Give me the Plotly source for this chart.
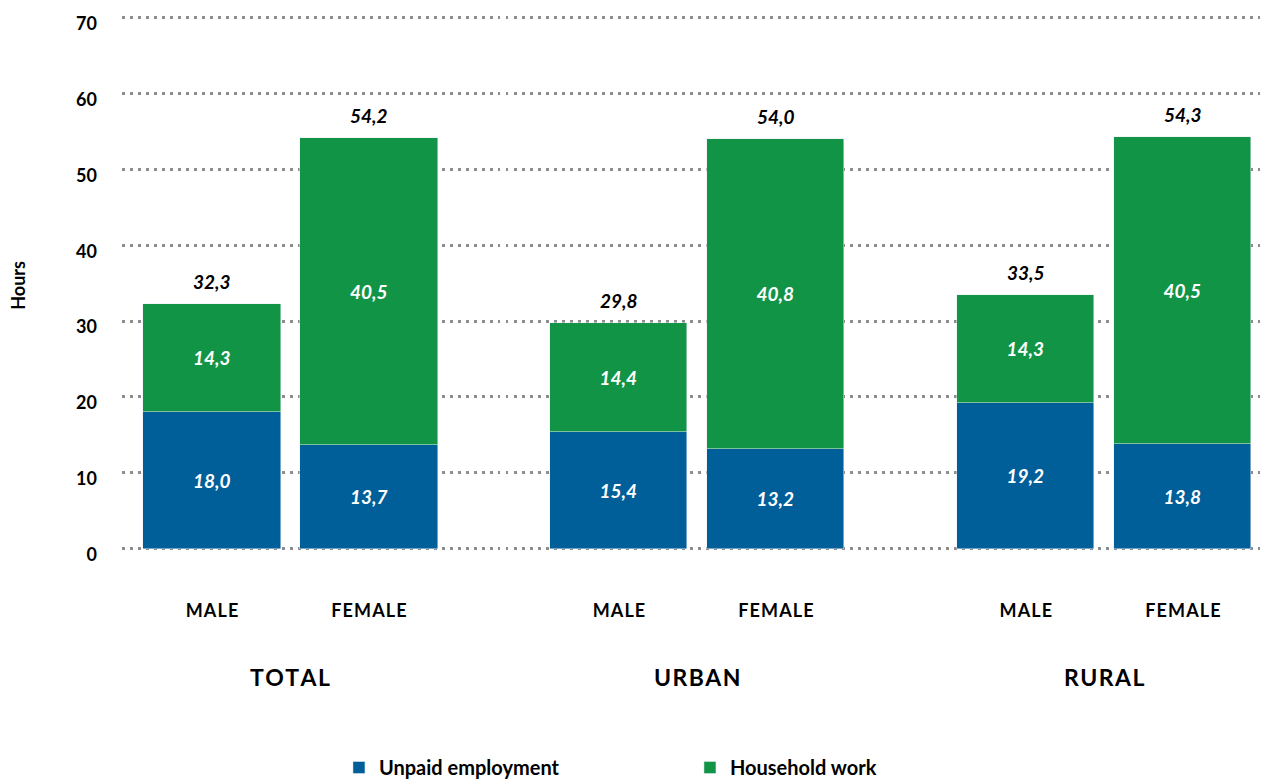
import plotly.graph_objects as go

groups = ["TOTAL", "URBAN", "RURAL"]
genders = ["MALE", "FEMALE"]
unpaid = [18.0, 13.7, 15.4, 13.2, 19.2, 13.8]
household = [14.3, 40.5, 14.4, 40.8, 14.3, 40.5]
totals = [32.3, 54.2, 29.8, 54.0, 33.5, 54.3]
y_ticks = [0, 10, 20, 30, 40, 50, 60, 70]

BLUE = "#005E99"
GREEN = "#129446"
FONT = "Lato"

group_step = 2.592
xs = [g * group_step + s for g in range(len(groups)) for s in range(len(genders))]
xlabels = ["\u200a".join(genders[s]) for g in range(len(groups)) for s in range(len(genders))]

fig = go.Figure()
fig.add_trace(go.Bar(
    x=xs, y=unpaid, name="Unpaid employment", marker_color=BLUE, width=0.873,
    texttemplate="%{y:.1f}", textposition="inside", insidetextanchor="middle",
    textfont=dict(family=FONT, size=19, color="white", style="italic", weight="bold"),
    hoverinfo="skip"))
fig.add_trace(go.Bar(
    x=xs, y=household, name="Household work", marker_color=GREEN, width=0.873,
    texttemplate="%{y:.1f}", textposition="inside", insidetextanchor="middle",
    textfont=dict(family=FONT, size=19, color="white", style="italic", weight="bold"),
    hoverinfo="skip"))

for xv, tv in zip(xs, totals):
    fig.add_annotation(x=xv, y=tv, xref="x", yref="y", text=f"{tv:.1f}".replace(".", ","),
                       showarrow=False, yanchor="bottom", yshift=9,
                       font=dict(family=FONT, size=19, color="black", style="italic", weight="bold"))

for g, name in enumerate(groups):
    fig.add_annotation(x=g * group_step + 0.5, xref="x", y=-0.2135, yref="paper",
                       text="\u200a".join(name), showarrow=False,
                       font=dict(family=FONT, size=23, color="black", weight="bold"),
                       xanchor="center", yanchor="middle")

fig.add_annotation(x=-0.0908, xref="paper", y=0.504, yref="paper", text="Hours",
                   textangle=-90, showarrow=False,
                   font=dict(family=FONT, size=18, color="black", weight="bold"),
                   xanchor="center", yanchor="middle")

fig.update_layout(
    width=1260, height=775,
    margin=dict(l=114, r=0, t=6, b=222.6, autoexpand=False),
    barmode="stack", bargap=0,
    plot_bgcolor="white", paper_bgcolor="white",
    separators=", ",
    font=dict(family=FONT, color="black"),
    legend=dict(orientation="h", x=0.4956, xanchor="center",
                yref="container", y=0.02, yanchor="middle",
                font=dict(family=FONT, size=20, color="black", weight="bold"),
                entrywidth=306, entrywidthmode="pixels", traceorder="normal"),
    xaxis=dict(range=[-0.573, 6.726], tickvals=xs, ticktext=xlabels, showgrid=False,
               zeroline=False, showline=False, ticks="", ticklabelstandoff=38,
               automargin=False,
               tickfont=dict(family=FONT, size=18, color="black", weight="bold")),
    yaxis=dict(range=[-1.5, 70.5], tickvals=y_ticks, showgrid=True, gridcolor="#8c8c8c",
               gridwidth=2.5, griddash="2.5px,5.5px", zeroline=False, showline=False,
               ticks="", ticklabelstandoff=24, ticklabelshift=6, automargin=False,
               tickfont=dict(family=FONT, size=18, color="black", weight="bold")),
)

fig.write_html("out.html")
